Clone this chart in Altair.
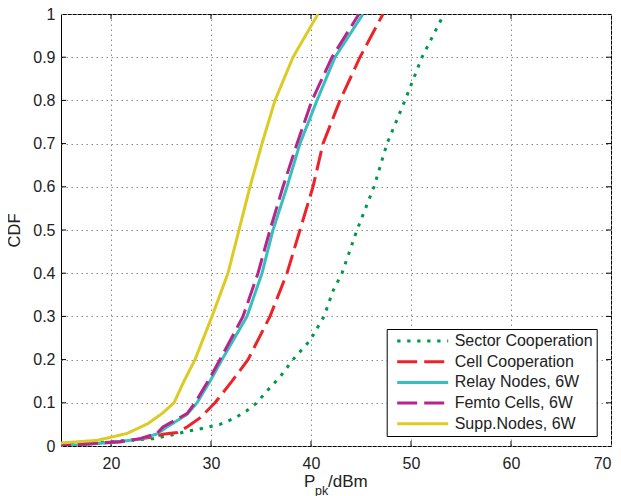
import altair as alt
import pandas as pd

series = ["Sector Cooperation", "Cell Cooperation", "Relay Nodes, 6W",
          "Femto Cells, 6W", "Supp.Nodes, 6W"]
colors = ["#009946", "#EE2229", "#36BFBF", "#B8238C", "#DCCB24"]
dashes = [[3.3, 6.7], [20, 7], [1, 0], [20, 7], [1, 0]]

sector_x = [14, 15, 18, 21, 24.2, 26.2, 27.4, 29.2, 30.9, 32.4, 33.6, 34.6, 35.5,
            36.9, 38.2, 39.9, 41.3, 42.2, 43.1, 44.6, 46.3, 47.6, 49.4, 51.1, 53.3]
sector_y = [0, 0.003, 0.006, 0.012, 0.017, 0.026, 0.033, 0.041, 0.05, 0.065, 0.082,
            0.1, 0.125, 0.16, 0.2, 0.244, 0.3, 0.359, 0.4, 0.5, 0.6, 0.7, 0.8, 0.9, 1.0]

cell_x = [14, 15, 18, 21, 24, 25.2, 26.6, 27.6, 28.9, 30.4, 32.1, 33.7, 35.9,
          37.6, 38.9, 40.2, 41.2, 42.9, 44.9, 47.2]
cell_y = [0, 0.003, 0.006, 0.01, 0.02, 0.027, 0.031, 0.044, 0.065, 0.1, 0.15, 0.2,
          0.3, 0.4, 0.5, 0.6, 0.7, 0.8, 0.9, 1.0]

relay_x = [14, 15, 17, 20, 22.9, 24.6, 25.6, 27.6, 28.6, 29.9, 31.1, 33.6,
           35.1, 36.2, 37.6, 38.9, 40.6, 42.4, 45.2]
relay_y = [0, 0.001, 0.003, 0.008, 0.016, 0.028, 0.044, 0.073, 0.1, 0.15, 0.2, 0.3,
           0.4, 0.5, 0.6, 0.7, 0.8, 0.9, 1.0]

femto_x = [14, 15, 18, 20.9, 22.9, 24.6, 25.2, 27.6, 28.4, 29.7, 30.9, 33.2,
           34.7, 35.9, 37.2, 38.6, 40.1, 42.1, 44.8]
femto_y = [0, 0.002, 0.005, 0.01, 0.017, 0.029, 0.044, 0.075, 0.1, 0.15, 0.2, 0.3,
           0.4, 0.5, 0.6, 0.7, 0.8, 0.9, 1.0]

supp_x = [14, 15, 18.6, 21.6, 23.7, 25.1, 26.3, 27.3, 28.4, 30.1, 31.7, 32.8, 33.9,
          35.1, 36.4, 38.2, 40.7]
supp_y = [0.005, 0.007, 0.013, 0.029, 0.052, 0.075, 0.1, 0.15, 0.2, 0.3, 0.4, 0.5,
          0.6, 0.7, 0.8, 0.9, 1.0]

x_ticks = [20, 30, 40, 50, 60, 70]
y_ticks = [0, 0.1, 0.2, 0.3, 0.4, 0.5, 0.6, 0.7, 0.8, 0.9, 1]

rows = []
for name, xs, ys in zip(series,
                        [sector_x, cell_x, relay_x, femto_x, supp_x],
                        [sector_y, cell_y, relay_y, femto_y, supp_y]):
    for i, (a, b) in enumerate(zip(xs, ys)):
        rows.append({"series": name, "x": a, "y": b, "i": i})
df = pd.DataFrame(rows)

FONT = "Liberation Sans"
W, H = 550, 432

xscale = alt.Scale(domain=[15, 70], nice=False, zero=False)
yscale = alt.Scale(domain=[0, 1], nice=False, zero=False)

xaxis = alt.Axis(values=x_ticks, grid=True, gridDash=[1.5, 3.5], gridColor="#8a8a8a",
                 gridWidth=1, ticks=False, domain=False, labelFontSize=16,
                 labelFont=FONT, labelColor="#222", labelPadding=9, labelFlush=True)
yaxis = alt.Axis(values=y_ticks, grid=True, gridDash=[1.5, 3.5], gridColor="#8a8a8a",
                 gridWidth=1, ticks=False, domain=False, labelFontSize=16,
                 labelFont=FONT, labelColor="#222", labelPadding=6, format=".1~f",
                 title="CDF", titleFont=FONT, titleFontSize=16.5, titleFontWeight="normal",
                 titleColor="#222", titlePadding=10, labelFlush=False)

X = alt.X("x:Q", scale=xscale, axis=xaxis, title=None)
Y = alt.Y("y:Q", scale=yscale, axis=yaxis, title="CDF")

legend = alt.Legend(title=None, orient="none", legendX=325.7, legendY=315,
                    fillColor="white", strokeColor="black", padding=4,
                    symbolType="stroke", symbolSize=2601, symbolStrokeWidth=3,
                    symbolOffset=5, labelOffset=5, labelFont=FONT, labelFontSize=16,
                    labelColor="#222", clipHeight=16, rowPadding=4.7, labelLimit=300,
                    cornerRadius=0)

lines = alt.Chart(df).mark_line(strokeWidth=3, clip=True, strokeCap="butt").encode(
    x=X, y=Y,
    color=alt.Color("series:N", scale=alt.Scale(domain=series, range=colors), legend=legend),
    strokeDash=alt.StrokeDash("series:N", scale=alt.Scale(domain=series, range=dashes),
                              legend=legend),
    order="i:Q",
)

tx = pd.DataFrame({"x": [20, 30, 40, 50, 60]})
ty = pd.DataFrame({"y": [0.1, 0.2, 0.3, 0.4, 0.5, 0.6, 0.7, 0.8, 0.9]})

tick_bottom = alt.Chart(tx).mark_rule(color="black", strokeWidth=1).encode(
    x=X, y=alt.value(H), y2=alt.value(H - 5))
tick_top = alt.Chart(tx).mark_rule(color="black", strokeWidth=1).encode(
    x=X, y=alt.value(0), y2=alt.value(5))
tick_left = alt.Chart(ty).mark_rule(color="black", strokeWidth=1).encode(
    y=Y, x=alt.value(0), x2=alt.value(5))
tick_right = alt.Chart(ty).mark_rule(color="black", strokeWidth=1).encode(
    y=Y, x=alt.value(W), x2=alt.value(W - 5))

one = pd.DataFrame({"a": [0]})
t_p = alt.Chart(one).mark_text(text="P", font=FONT, fontSize=17, align="left",
                               baseline="alphabetic", color="#222").encode(
    x=alt.value(243), y=alt.value(472.7))
t_sub = alt.Chart(one).mark_text(text="pk", font=FONT, fontSize=12.5, align="left",
                                 baseline="alphabetic", color="#222").encode(
    x=alt.value(254), y=alt.value(481))
t_unit = alt.Chart(one).mark_text(text="/dBm", font=FONT, fontSize=17, align="left",
                                  baseline="alphabetic", color="#222").encode(
    x=alt.value(267), y=alt.value(472.7))

chart = alt.layer(
    tick_bottom, tick_top, tick_left, tick_right, lines, t_p, t_sub, t_unit
).properties(
    width=W, height=H,
    autosize=alt.AutoSizeParams(type="none"),
    padding={"left": 53, "top": 6, "right": 2, "bottom": 50},
    background="white",
).configure_view(
    stroke="black", strokeWidth=1
)

chart.save("out.html", embed_options={"renderer": "svg", "actions": False})
